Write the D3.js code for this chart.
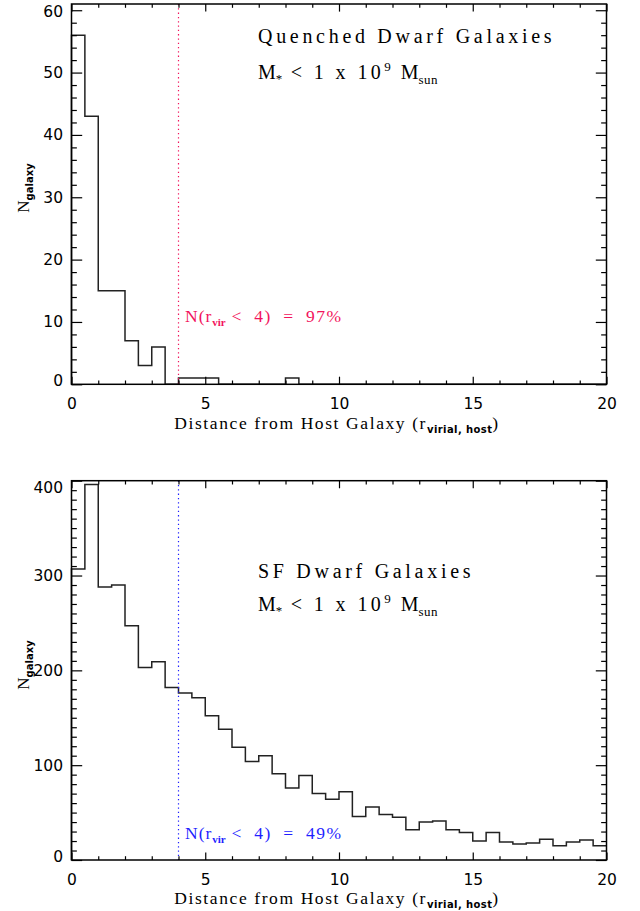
<!DOCTYPE html>
<html>
<head>
<meta charset="utf-8">
<script src="https://cdn.jsdelivr.net/npm/d3@7/dist/d3.min.js"></script>
<style>
  html, body { margin: 0; padding: 0; background: #fff; }
  svg { display: block; }
</style>
</head>
<body>
<script>
// ---------------- data ----------------
const binLeft = [0, 0.5, 1, 1.5, 2, 2.5, 3, 3.5, 4, 4.5, 5, 5.5, 6, 6.5, 7, 7.5, 8, 8.5, 9, 9.5,
                 10, 10.5, 11, 11.5, 12, 12.5, 13, 13.5, 14, 14.5, 15, 15.5, 16, 16.5, 17, 17.5, 18, 18.5, 19, 19.5];
const binWidth = 0.5;
const quenchedCounts = [56, 43, 15, 15, 7, 3, 6, 0, 1, 1, 1, 0, 0, 0, 0, 0, 1, 0, 0, 0,
                        0, 0, 0, 0, 0, 0, 0, 0, 0, 0, 0, 0, 0, 0, 0, 0, 0, 0, 0, 0];
const sfCounts = [307, 396, 288, 290, 247, 203, 209, 182, 176, 171, 152, 138, 119, 104, 110, 91, 76, 89, 70, 64,
                  72, 46, 56, 48, 45, 32, 40, 41, 32, 29, 20, 29, 19, 17, 18, 22, 15, 19, 21, 15];
const xTickLabels = [0, 5, 10, 15, 20];
const xMinorTicks = [1, 2, 3, 4, 6, 7, 8, 9, 11, 12, 13, 14, 16, 17, 18, 19];
const quenchedYTicks = [0, 10, 20, 30, 40, 50, 60];
const sfYTicks = [0, 100, 200, 300, 400];
const virialCut = 4;
const quenchedTitle = "Quenched Dwarf Galaxies";
const sfTitle = "SF Dwarf Galaxies";
const quenchedFrac = "97%";
const sfFrac = "49%";

// ---------------- layout ----------------
const W = 640, H = 911;
const svg = d3.select("body").append("svg").attr("width", W).attr("height", H);
const SERIF = "'Liberation Serif', 'Times New Roman', serif";
const SANS = "'DejaVu Sans', sans-serif";

const x = d3.scaleLinear().domain([0, 20]).range([71.5, 606.5]);

const panels = [
  { counts: quenchedCounts, yMax: 61, top: 4, bottom: 384.3, yTicks: quenchedYTicks, yMinorStep: 2,
    color: "#f2135c", frac: quenchedFrac, title: quenchedTitle,
    titleY: 43, massY: 79, fracY: 322, ylabelY: 188, xlabelY: 429 },
  { counts: sfCounts, yMax: 400, top: 480.7, bottom: 860, yTicks: sfYTicks, yMinorStep: 10,
    color: "#1f1fff", frac: sfFrac, title: sfTitle,
    titleY: 578, massY: 610.5, fracY: 839, ylabelY: 665, xlabelY: 904 }
];

panels.forEach(p => {
  const y = d3.scaleLinear().domain([0, p.yMax]).range([p.bottom, p.top]);
  const g = svg.append("g");
  const L = x.range()[0], R = x.range()[1];
  const majX = 0.02 * (p.bottom - p.top);
  const majY = 0.02 * (R - L);

  // histogram (step outline)
  const path = d3.path();
  path.moveTo(x(binLeft[0]), y(0));
  binLeft.forEach((b, i) => {
    path.lineTo(x(b), y(p.counts[i]));
    path.lineTo(x(b + binWidth), y(p.counts[i]));
  });
  g.append("path").attr("d", path.toString())
    .attr("fill", "none").attr("stroke", "#222").attr("stroke-width", 1.5)
    .attr("stroke-linejoin", "miter");

  // dotted virial line
  g.append("line")
    .attr("x1", x(virialCut)).attr("x2", x(virialCut))
    .attr("y1", p.top).attr("y2", p.bottom)
    .attr("stroke", p.color).attr("stroke-width", 1.2)
    .attr("stroke-dasharray", "1.3,3");

  // axes
  const yMinor = d3.range(0, p.yMax + 1e-9, p.yMinorStep).filter(v => !p.yTicks.includes(v));

  const addAxis = (axis, tx, ty) => {
    const a = g.append("g").attr("transform", `translate(${tx},${ty})`).call(axis);
    a.select(".domain").remove();
    a.selectAll(".tick line").attr("stroke", "#000").attr("stroke-width", 1.2);
    return a;
  };

  // bottom
  const xb = addAxis(d3.axisBottom(x).tickValues(xTickLabels).tickSize(-majX).tickPadding(13.5)
                      .tickFormat(d3.format("d")), 0, p.bottom);
  xb.selectAll("text").attr("font-family", SANS).attr("font-size", 15.5).attr("fill", "#000");
  addAxis(d3.axisBottom(x).tickValues(xMinorTicks).tickSize(-majX / 2).tickFormat(""), 0, p.bottom);
  // top
  addAxis(d3.axisTop(x).tickValues(xTickLabels).tickSize(-majX).tickFormat(""), 0, p.top);
  addAxis(d3.axisTop(x).tickValues(xMinorTicks).tickSize(-majX / 2).tickFormat(""), 0, p.top);
  // left
  const yl = addAxis(d3.axisLeft(y).tickValues(p.yTicks).tickSize(-majY).tickPadding(8.5)
                      .tickFormat(d3.format("d")), L, 0);
  yl.selectAll("text").attr("font-family", SANS).attr("font-size", 15.5).attr("fill", "#000")
    .attr("dy", null).attr("dominant-baseline", "central")
    .attr("y", d => {
      const ty = y(d);
      const c = Math.max(p.top + 7, Math.min(p.bottom - 4, ty));
      return c - ty;
    });
  addAxis(d3.axisLeft(y).tickValues(yMinor).tickSize(-majY / 2).tickFormat(""), L, 0);
  // right
  addAxis(d3.axisRight(y).tickValues(p.yTicks).tickSize(-majY).tickFormat(""), R, 0);
  addAxis(d3.axisRight(y).tickValues(yMinor).tickSize(-majY / 2).tickFormat(""), R, 0);

  // frame
  g.append("rect").attr("x", L).attr("y", p.top).attr("width", R - L).attr("height", p.bottom - p.top)
    .attr("fill", "none").attr("stroke", "#000").attr("stroke-width", 1.5);

  // title
  g.append("text").attr("x", 258).attr("y", p.titleY)
    .attr("font-family", SERIF).attr("font-size", 20).attr("letter-spacing", 3.7)
    .attr("fill", "#000").text(p.title);

  // mass condition
  const m = g.append("text").attr("x", 258).attr("y", p.massY)
    .attr("font-family", SERIF).attr("font-size", 20).attr("fill", "#000")
    .attr("xml:space", "preserve");
  m.append("tspan").text("M");
  m.append("tspan").attr("font-size", 13).attr("dy", 4).text("*");
  m.append("tspan").attr("dy", -4).attr("letter-spacing", 3.4).text(" < 1 x 10");
  m.append("tspan").attr("font-size", 13).attr("dy", -8).text("9");
  m.append("tspan").attr("dy", 8).text(" \u00a0M");
  m.append("tspan").attr("font-size", 13).attr("dy", 5).attr("letter-spacing", 0.5).text("sun");

  // fraction text
  const f = g.append("text").attr("x", 185).attr("y", p.fracY)
    .attr("font-family", SERIF).attr("font-size", 17.5).attr("fill", p.color);
  f.append("tspan").attr("letter-spacing", 1.0).text("N(r");
  f.append("tspan").attr("font-size", 11).attr("font-weight", "bold").attr("dy", 4).text("vir");
  f.append("tspan").attr("dy", -4).attr("letter-spacing", 1.4).text("\u00a0<\u00a0\u00a04)\u00a0\u00a0=\u00a0\u00a0" + p.frac);

  // y label
  const yt = g.append("text")
    .attr("transform", `translate(29,${p.ylabelY}) rotate(-90)`)
    .attr("text-anchor", "middle").attr("font-family", SERIF).attr("font-size", 17).attr("fill", "#000");
  yt.append("tspan").text("N");
  yt.append("tspan").attr("font-family", SANS).attr("font-weight", "bold").attr("font-size", 10).attr("dy", 4).text("galaxy");

  // x label
  const xt = g.append("text").attr("x", 337).attr("y", p.xlabelY)
    .attr("text-anchor", "middle").attr("font-family", SERIF).attr("font-size", 17.5)
    .attr("letter-spacing", 1.6).attr("fill", "#000");
  xt.append("tspan").text("Distance from Host Galaxy (r");
  xt.append("tspan").attr("font-family", SANS).attr("font-weight", "bold").attr("font-size", 10)
    .attr("letter-spacing", 0.4).attr("dy", 3.5).text("virial, host");
  xt.append("tspan").attr("dy", -3.5).text(")");
});
</script>
</body>
</html>
